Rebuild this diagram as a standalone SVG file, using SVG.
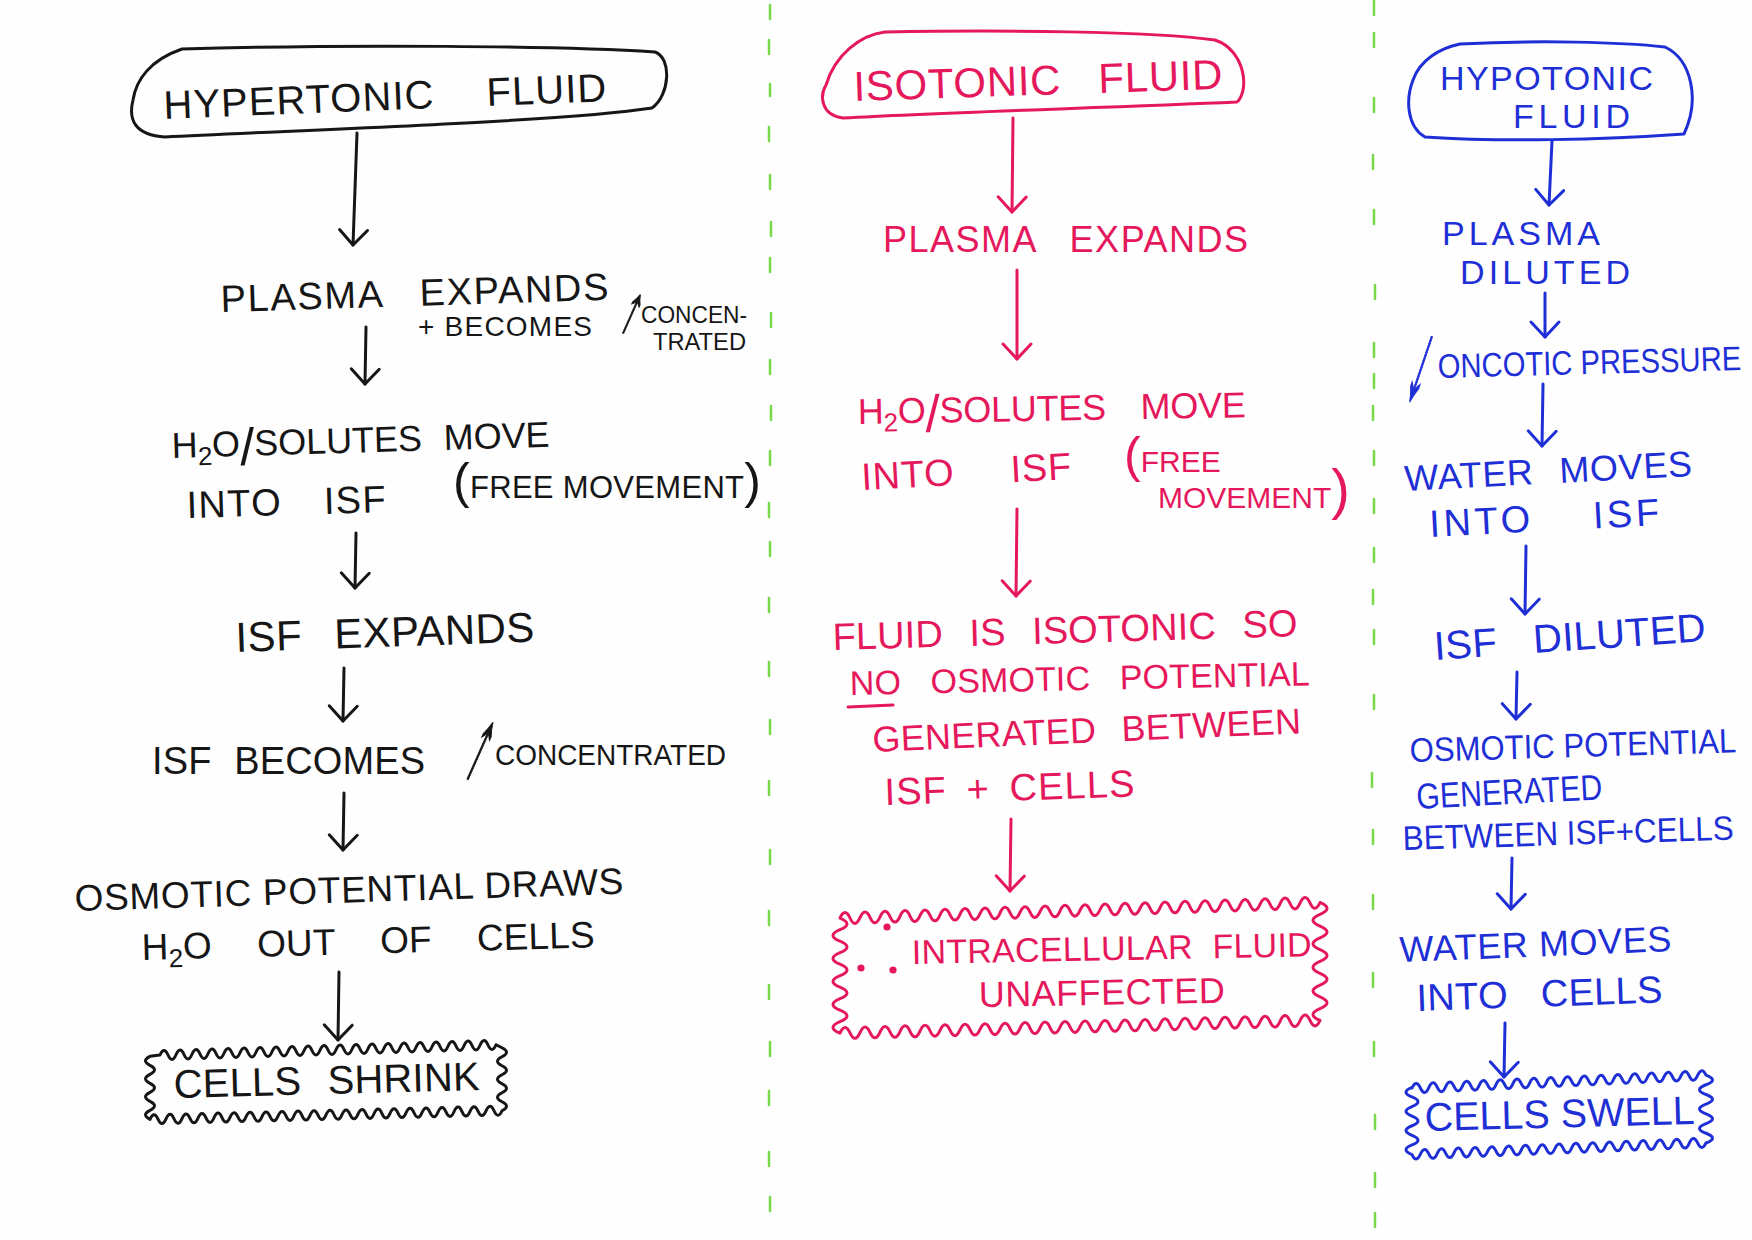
<svg xmlns="http://www.w3.org/2000/svg" width="1752" height="1240" viewBox="0 0 1752 1240">
<defs>
<style>
text{font-family:"Liberation Sans","DejaVu Sans",Arial,sans-serif;}
.k{fill:#161616}
.r{fill:#e5185c}
.b{fill:#1f2fd6}
.ks{stroke:#161616;fill:none;stroke-width:3;stroke-linecap:round;stroke-linejoin:round}
.rs{stroke:#e5185c;fill:none;stroke-width:3;stroke-linecap:round;stroke-linejoin:round}
.bs{stroke:#1f2fd6;fill:none;stroke-width:3;stroke-linecap:round;stroke-linejoin:round}
.dv{stroke:#78d84a;stroke-width:2.5;stroke-linecap:round;fill:none}
</style>
<marker id="ak" markerUnits="userSpaceOnUse" markerWidth="40" markerHeight="40" viewBox="-20 -20 40 40" refX="0" refY="0" orient="auto"><path d="M -15 -14 L 0 0 L -15 14" fill="none" stroke="#161616" stroke-width="3" stroke-linecap="round" stroke-linejoin="round"/></marker>
<marker id="ar" markerUnits="userSpaceOnUse" markerWidth="40" markerHeight="40" viewBox="-20 -20 40 40" refX="0" refY="0" orient="auto"><path d="M -15 -14 L 0 0 L -15 14" fill="none" stroke="#e5185c" stroke-width="3" stroke-linecap="round" stroke-linejoin="round"/></marker>
<marker id="ab" markerUnits="userSpaceOnUse" markerWidth="40" markerHeight="40" viewBox="-20 -20 40 40" refX="0" refY="0" orient="auto"><path d="M -15 -14 L 0 0 L -15 14" fill="none" stroke="#1f2fd6" stroke-width="3" stroke-linecap="round" stroke-linejoin="round"/></marker>
</defs>
<rect width="1752" height="1240" fill="#fefefe"/>

<g id="dividers" class="dv">
<path d="M770 5v14M769 40v14M770 84v12M769 127v14M770 175v14M771 222v14M770 258v14M771 313v14M770 360v14M771 406v14M770 451v14M769 503v14M770 542v14M769 598v14M769 662v14M770 720v14M769 781v14M770 850v14M769 911v14M769 985v14M770 1042v14M769 1091v14M769 1152v14M770 1197v14"/>
<path d="M1374 1v14M1374 33v14M1374 98v14M1373 155v14M1374 210v14M1375 285v14M1374 343v14M1374 374v14M1373 406v14M1374 451v14M1374 499v14M1374 548v14M1373 590v14M1374 630v14M1374 695v14M1372 773v14M1373 830v14M1373 895v14M1373 973v14M1374 1042v14M1375 1115v14M1375 1173v14M1375 1213v14"/>
</g>

<g id="connectors">
<path class="ks" marker-end="url(#ak)" d="M357 133 L353 245"/>
<path class="ks" marker-end="url(#ak)" d="M366 327 L365 384"/>
<path class="ks" marker-end="url(#ak)" d="M356 533 L355 588"/>
<path class="ks" marker-end="url(#ak)" d="M344 668 L343 721"/>
<path class="ks" marker-end="url(#ak)" d="M344 793 L343 850"/>
<path class="ks" marker-end="url(#ak)" d="M339 972 L338 1040"/>
<path class="rs" marker-end="url(#ar)" d="M1013 118 L1012 212"/>
<path class="rs" marker-end="url(#ar)" d="M1017 270 L1017 359"/>
<path class="rs" marker-end="url(#ar)" d="M1017 509 L1016 596"/>
<path class="rs" marker-end="url(#ar)" d="M1011 819 L1010 891"/>
<path class="bs" marker-end="url(#ab)" d="M1552 141 L1549 205"/>
<path class="bs" marker-end="url(#ab)" d="M1545 293 L1545 337"/>
<path class="bs" marker-end="url(#ab)" d="M1543 384 L1542 446"/>
<path class="bs" marker-end="url(#ab)" d="M1526 546 L1525 614"/>
<path class="bs" marker-end="url(#ab)" d="M1517 672 L1516 719"/>
<path class="bs" marker-end="url(#ab)" d="M1512 858 L1511 909"/>
<path class="bs" marker-end="url(#ab)" d="M1505 1023 L1504 1077"/>
</g>

<!-- LEFT: hypertonic -->
<g id="hypertonic">
<path class="ks" d="M182 49 C350 44 560 46 655 52 C672 58 670 95 652 108 C560 122 300 130 165 137 C135 135 128 120 133 100 C136 80 150 60 182 49 Z"/>
<text class="k" x="164" y="119" font-size="40" word-spacing="40" textLength="443" lengthAdjust="spacing" transform="rotate(-2.3 164 119)">HYPERTONIC FLUID</text>
</g>
<g id="h-plasma">
<text class="k" x="221" y="312" font-size="38" word-spacing="25" textLength="388" lengthAdjust="spacing" transform="rotate(-1.8 221 312)">PLASMA EXPANDS</text>
<text class="k" x="418" y="336" font-size="28" textLength="174" lengthAdjust="spacing">+ BECOMES</text>
<text class="k" font-size="44" text-anchor="middle" stroke="#161616" stroke-width="0.8" transform="translate(624 331) rotate(24) scale(0.8 1.6)">↑</text>
<text class="k" x="641" y="323" font-size="24" textLength="106" lengthAdjust="spacingAndGlyphs">CONCEN-</text>
<text class="k" x="653" y="350" font-size="24" textLength="93" lengthAdjust="spacingAndGlyphs">TRATED</text>
</g>
<g id="h-solutes">
<text class="k" x="172" y="458" font-size="36" word-spacing="12" textLength="378" lengthAdjust="spacing" transform="rotate(-1.7 172 458)">H<tspan font-size="26" dy="8">2</tspan><tspan dy="-8">O</tspan><tspan font-size="52" dy="9">/</tspan><tspan dy="-9">SOLUTES MOVE</tspan></text>
<text class="k" x="187" y="518" font-size="38" word-spacing="30" textLength="199" lengthAdjust="spacing" transform="rotate(-1.7 187 518)">INTO ISF</text>
<text class="k" x="453" y="498" font-size="31" textLength="308" lengthAdjust="spacing"><tspan font-size="50">(</tspan>FREE MOVEMENT<tspan font-size="50">)</tspan></text>
</g>
<g id="h-isf-expands">
<text class="k" x="236" y="652" font-size="42" word-spacing="20" textLength="299" lengthAdjust="spacing" transform="rotate(-2 236 652)">ISF EXPANDS</text>
</g>
<g id="h-isf-conc">
<text class="k" x="152" y="774" font-size="38" word-spacing="12" textLength="273" lengthAdjust="spacing">ISF BECOMES</text>
<text class="k" font-size="44" text-anchor="middle" stroke="#161616" stroke-width="0.8" transform="translate(469 776) rotate(24) scale(0.85 2.35)">↑</text>
<text class="k" x="495" y="765" font-size="30" textLength="231" lengthAdjust="spacingAndGlyphs">CONCENTRATED</text>
</g>
<g id="h-osmotic">
<text class="k" x="75" y="911" font-size="37" textLength="549" lengthAdjust="spacing" transform="rotate(-1.8 75 911)">OSMOTIC POTENTIAL DRAWS</text>
<text class="k" x="142" y="960" font-size="37" word-spacing="35" textLength="453" lengthAdjust="spacing" transform="rotate(-1.6 142 960)">H<tspan font-size="26" dy="8">2</tspan><tspan dy="-8">O OUT OF CELLS</tspan></text>
</g>
<g id="h-shrink">
<path class="ks" d="M160 1055 q4 -9 8 0 t8 -0.25 8 -0.25 8 -0.25 8 -0.25 8 -0.25 8 -0.25 8 -0.25 8 -0.25 8 -0.25 8 -0.25 8 -0.25 8 -0.25 8 -0.25 8 -0.25 8 -0.25 8 -0.25 8 -0.25 8 -0.25 8 -0.25 8 -0.25 8 -0.25 8 -0.25 8 -0.25 8 -0.25 8 -0.25 8 -0.25 8 -0.25 8 -0.25 8 -0.25 8 -0.25 8 -0.25 8 -0.25 8 -0.25 8 -0.25 8 -0.25 8 -0.25 8 -0.25 8 -0.25 8 -0.25 8 -0.25 8 -0.25 l6 3 q9 4.5 0 9 t0 9 0 9 0 9 0 9 0 9 0 9 q-4 9 -8 0 t-8 0.2 -8 0.2 -8 0.2 -8 0.2 -8 0.2 -8 0.2 -8 0.2 -8 0.2 -8 0.2 -8 0.2 -8 0.2 -8 0.2 -8 0.2 -8 0.2 -8 0.2 -8 0.2 -8 0.2 -8 0.2 -8 0.2 -8 0.2 -8 0.2 -8 0.2 -8 0.2 -8 0.2 -8 0.2 -8 0.2 -8 0.2 -8 0.2 -8 0.2 -8 0.2 -8 0.2 -8 0.2 -8 0.2 -8 0.2 -8 0.2 -8 0.2 -8 0.2 -8 0.2 -8 0.2 -8 0.2 -8 0.2 -8 0.2 -8 0.2 q-9 -4.5 0 -9 t0 -9 0 -9 0 -9 0 -9 0 -9 0 -9 Z"/>
<text class="k" x="174" y="1098" font-size="40" word-spacing="15" textLength="306" lengthAdjust="spacing" transform="rotate(-1.5 174 1098)">CELLS SHRINK</text>
</g>

<!-- MIDDLE: isotonic -->
<g id="isotonic">
<path class="rs" d="M885 32 C1000 30 1150 31 1215 40 C1245 50 1250 90 1237 102 C1100 108 950 112 843 118 C820 115 820 95 826 85 C835 55 860 35 885 32 Z"/>
<text class="r" x="854" y="101" font-size="42" word-spacing="25" textLength="369" lengthAdjust="spacing" transform="rotate(-1.9 854 101)">ISOTONIC FLUID</text>
</g>
<g id="i-plasma">
<text class="r" x="883" y="252" font-size="36" word-spacing="22" textLength="365" lengthAdjust="spacing">PLASMA EXPANDS</text>
</g>
<g id="i-solutes">
<text class="r" x="858" y="424" font-size="36" word-spacing="25" textLength="388" lengthAdjust="spacing" transform="rotate(-1 858 424)">H<tspan font-size="26" dy="8">2</tspan><tspan dy="-8">O</tspan><tspan font-size="52" dy="9">/</tspan><tspan dy="-9">SOLUTES MOVE</tspan></text>
<text class="r" x="862" y="490" font-size="38" word-spacing="45" textLength="210" lengthAdjust="spacing" transform="rotate(-3 862 490)">INTO ISF</text>
<text class="r" font-size="30"><tspan x="1124" y="472"><tspan font-size="50">(</tspan>FREE</tspan><tspan x="1158" y="508">MOVEMENT<tspan font-size="56">)</tspan></tspan></text>
</g>
<g id="i-no-potential">
<text class="r" x="833" y="650" font-size="38" word-spacing="16" textLength="465" lengthAdjust="spacing" transform="rotate(-1.7 833 650)">FLUID IS ISOTONIC SO</text>
<text class="r" x="850" y="695" font-size="34" word-spacing="20" textLength="460" lengthAdjust="spacing" transform="rotate(-1.2 850 695)">NO OSMOTIC POTENTIAL</text>
<path class="rs" d="M848 707 L893 705"/>
<text class="r" x="873" y="752" font-size="36" word-spacing="15" textLength="429" lengthAdjust="spacing" transform="rotate(-2.5 873 752)">GENERATED BETWEEN</text>
<text class="r" x="885" y="805" font-size="38" word-spacing="8" textLength="250" lengthAdjust="spacing" transform="rotate(-2 885 805)">ISF + CELLS</text>
</g>
<g id="i-unaffected">
<path class="rs" d="M840 918 q5 -11 10 0 t10 -0.33 10 -0.33 10 -0.33 10 -0.33 10 -0.33 10 -0.33 10 -0.33 10 -0.33 10 -0.33 10 -0.33 10 -0.33 10 -0.33 10 -0.33 10 -0.33 10 -0.33 10 -0.33 10 -0.33 10 -0.33 10 -0.33 10 -0.33 10 -0.33 10 -0.33 10 -0.33 10 -0.33 10 -0.33 10 -0.33 10 -0.33 10 -0.33 10 -0.33 10 -0.33 10 -0.33 10 -0.33 10 -0.33 10 -0.33 10 -0.33 10 -0.33 10 -0.33 10 -0.33 10 -0.33 10 -0.33 10 -0.33 10 -0.33 10 -0.33 10 -0.33 10 -0.33 10 -0.33 10 -0.33 q14 5.9 0 11.8 t0 11.8 0 11.8 0 11.8 0 11.8 0 11.8 0 11.8 0 11.8 0 11.8 0 11.8 q-5 11 -10 0 t-10 0.27 -10 0.27 -10 0.27 -10 0.27 -10 0.27 -10 0.27 -10 0.27 -10 0.27 -10 0.27 -10 0.27 -10 0.27 -10 0.27 -10 0.27 -10 0.27 -10 0.27 -10 0.27 -10 0.27 -10 0.27 -10 0.27 -10 0.27 -10 0.27 -10 0.27 -10 0.27 -10 0.27 -10 0.27 -10 0.27 -10 0.27 -10 0.27 -10 0.27 -10 0.27 -10 0.27 -10 0.27 -10 0.27 -10 0.27 -10 0.27 -10 0.27 -10 0.27 -10 0.27 -10 0.27 -10 0.27 -10 0.27 -10 0.27 -10 0.27 -10 0.27 -10 0.27 -10 0.27 -10 0.27 q-14 -5.75 0 -11.5 t0 -11.5 0 -11.5 0 -11.5 0 -11.5 0 -11.5 0 -11.5 0 -11.5 0 -11.5 0 -11.5 Z"/>
<g class="r"><circle cx="887" cy="927" r="3.6"/><circle cx="861" cy="968" r="3.6"/><circle cx="893" cy="970" r="3.6"/></g>
<text class="r" x="912" y="964" font-size="34" word-spacing="10" textLength="400" lengthAdjust="spacing" transform="rotate(-1.1 912 964)">INTRACELLULAR FLUID</text>
<text class="r" x="979" y="1007" font-size="36" textLength="246" lengthAdjust="spacing" transform="rotate(-1 979 1007)">UNAFFECTED</text>
</g>

<!-- RIGHT: hypotonic -->
<g id="hypotonic">
<path class="bs" d="M1460 44 C1540 40 1620 42 1665 47 C1692 60 1700 100 1684 134 C1600 140 1500 142 1425 137 C1406 126 1406 98 1413 80 C1420 60 1440 48 1460 44 Z"/>
<text class="b" font-size="34"><tspan x="1440" y="90" textLength="213" lengthAdjust="spacing">HYPOTONIC</tspan><tspan x="1513" y="128" textLength="117" lengthAdjust="spacing">FLUID</tspan></text>
</g>
<g id="o-plasma">
<text class="b" font-size="34"><tspan x="1442" y="245" textLength="158" lengthAdjust="spacing">PLASMA</tspan><tspan x="1460" y="284" textLength="170" lengthAdjust="spacing">DILUTED</tspan></text>
</g>
<g id="o-oncotic">
<text class="b" font-size="44" text-anchor="middle" stroke="#1f2fd6" stroke-width="0.8" transform="translate(1411 398) rotate(18.7) scale(0.85 2.6)">↓</text>
<text class="b" x="0" y="0" font-size="34" transform="translate(1438 378) rotate(-1.5) scale(0.86 1)">ONCOTIC PRESSURE</text>
</g>
<g id="o-water-isf">
<text class="b" x="1405" y="491" font-size="36" word-spacing="15" textLength="288" lengthAdjust="spacing" transform="rotate(-3 1405 491)">WATER MOVES</text>
<text class="b" x="1430" y="537" font-size="38" word-spacing="45" textLength="230" lengthAdjust="spacing" transform="rotate(-3 1430 537)">INTO ISF</text>
</g>
<g id="o-isf-diluted">
<text class="b" x="1435" y="660" font-size="40" word-spacing="25" textLength="272" lengthAdjust="spacing" transform="rotate(-4 1435 660)">ISF DILUTED</text>
</g>
<g id="o-osmotic">
<text class="b" x="0" y="0" font-size="34" transform="translate(1410 762) rotate(-1.7) scale(0.915 1)">OSMOTIC POTENTIAL</text>
<text class="b" x="1417" y="809" font-size="36" textLength="186" lengthAdjust="spacingAndGlyphs" transform="rotate(-3 1417 809)">GENERATED</text>
<text class="b" x="0" y="0" font-size="34" transform="translate(1403 850) rotate(-1.8) scale(0.925 1)">BETWEEN ISF+CELLS</text>
</g>
<g id="o-water-cells">
<text class="b" x="1400" y="962" font-size="36" textLength="272" lengthAdjust="spacing" transform="rotate(-2.3 1400 962)">WATER MOVES</text>
<text class="b" x="1417" y="1011" font-size="38" word-spacing="22" textLength="246" lengthAdjust="spacing" transform="rotate(-2 1417 1011)">INTO CELLS</text>
</g>
<g id="o-swell">
<path class="bs" d="M1412 1088 q4.2 -9 8.4 0 t8.4 -0.38 8.4 -0.38 8.4 -0.38 8.4 -0.38 8.4 -0.38 8.4 -0.38 8.4 -0.38 8.4 -0.38 8.4 -0.38 8.4 -0.38 8.4 -0.38 8.4 -0.38 8.4 -0.38 8.4 -0.38 8.4 -0.38 8.4 -0.38 8.4 -0.38 8.4 -0.38 8.4 -0.38 8.4 -0.38 8.4 -0.38 8.4 -0.38 8.4 -0.38 8.4 -0.38 8.4 -0.38 8.4 -0.38 8.4 -0.38 8.4 -0.38 8.4 -0.38 8.4 -0.38 8.4 -0.38 8.4 -0.38 8.4 -0.38 8.4 -0.38 q13 4.85 0 9.7 t0 9.7 0 9.7 0 9.7 0 9.7 0 9.7 0 9.7 q-4.2 9 -8.4 0 t-8.4 0.34 -8.4 0.34 -8.4 0.34 -8.4 0.34 -8.4 0.34 -8.4 0.34 -8.4 0.34 -8.4 0.34 -8.4 0.34 -8.4 0.34 -8.4 0.34 -8.4 0.34 -8.4 0.34 -8.4 0.34 -8.4 0.34 -8.4 0.34 -8.4 0.34 -8.4 0.34 -8.4 0.34 -8.4 0.34 -8.4 0.34 -8.4 0.34 -8.4 0.34 -8.4 0.34 -8.4 0.34 -8.4 0.34 -8.4 0.34 -8.4 0.34 -8.4 0.34 -8.4 0.34 -8.4 0.34 -8.4 0.34 -8.4 0.34 -8.4 0.34 q-12 -4.8 0 -9.6 t0 -9.6 0 -9.6 0 -9.6 0 -9.6 0 -9.6 0 -9.6 Z"/>
<text class="b" x="1425" y="1131" font-size="40" textLength="270" lengthAdjust="spacingAndGlyphs" transform="rotate(-1.5 1425 1131)">CELLS SWELL</text>
</g>
</svg>
